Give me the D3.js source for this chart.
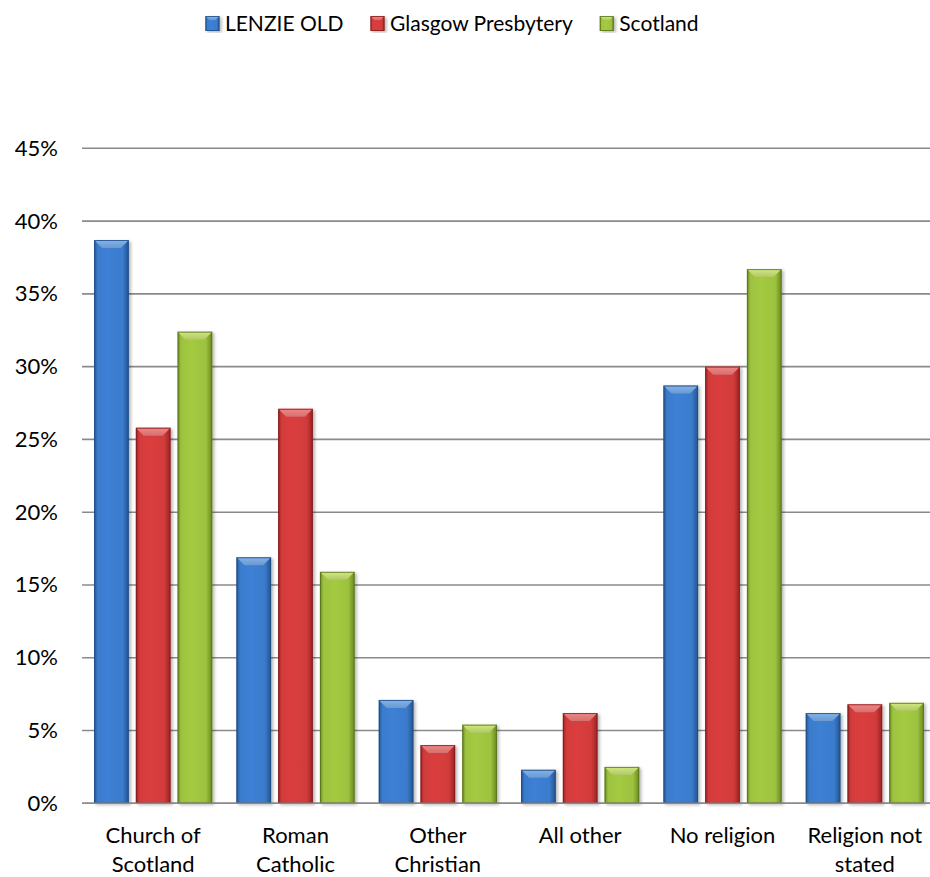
<!DOCTYPE html>
<html>
<head>
<meta charset="utf-8">
<script src="https://cdn.jsdelivr.net/npm/d3@7"></script>
<style>
  html, body { margin: 0; padding: 0; background: #fff; }
  svg { display: block; }
  text { font-family: Lato, "Open Sans", sans-serif; fill: #000; }
</style>
</head>
<body>
<svg id="chart" width="930" height="877"></svg>
<script>
// ---- data ----
const categories = [
  ["Church of", "Scotland"],
  ["Roman", "Catholic"],
  ["Other", "Christian"],
  ["All other"],
  ["No religion"],
  ["Religion not", "stated"]
];
const seriesNames = ["LENZIE OLD", "Glasgow Presbytery", "Scotland"];
const lenzieOld = [38.7, 16.9, 7.1, 2.3, 28.7, 6.2];
const glasgowPresbytery = [25.8, 27.1, 4.0, 6.2, 30.0, 6.8];
const scotland = [32.4, 15.9, 5.4, 2.5, 36.7, 6.9];
const yTicks = [0, 5, 10, 15, 20, 25, 30, 35, 40, 45];

(function () {
const seriesValues = [lenzieOld, glasgowPresbytery, scotland];
const palette = [
  { body: "#3a7bcc", edge: "#23548f", top: "#80b4f0", line: "#1e4a80" },
  { body: "#d23b3b", edge: "#9a2222", top: "#f58585", line: "#821b1b" },
  { body: "#9dc23f", edge: "#68881f", top: "#d0ea7c", line: "#56701a" }
];
const FS = 22;

const svg = d3.select("#chart");
const W = 930;
const pLeft = 82, pRight = 936, pTop = 148.3, pBottom = 803.3;

const catKeys = categories.map((c, i) => i);
const x0 = d3.scaleBand().domain(catKeys).range([pLeft, pRight])
  .paddingInner(0.17).paddingOuter(0.085);
const x1 = d3.scaleBand().domain(d3.range(seriesNames.length))
  .range([0, x0.bandwidth()]).paddingInner(0.17).paddingOuter(0);
const y = d3.scaleLinear().domain([0, 45]).range([pBottom, pTop]);

const defs = svg.append("defs");
palette.forEach((p, i) => {
  const g = defs.append("linearGradient").attr("id", "body" + i)
    .attr("x1", "0").attr("x2", "1").attr("y1", "0").attr("y2", "0");
  g.append("stop").attr("offset", "0").attr("stop-color", p.edge);
  g.append("stop").attr("offset", "0.1").attr("stop-color", p.body);
  g.append("stop").attr("offset", "0.4").attr("stop-color", d3.color(p.body).brighter(0.12));
  g.append("stop").attr("offset", "0.82").attr("stop-color", p.body);
  g.append("stop").attr("offset", "1").attr("stop-color", p.edge);
  const t = defs.append("linearGradient").attr("id", "top" + i)
    .attr("x1", "0").attr("x2", "0").attr("y1", "0").attr("y2", "1");
  t.append("stop").attr("offset", "0").attr("stop-color", p.top);
  t.append("stop").attr("offset", "1").attr("stop-color", d3.color(p.top).darker(0.45));
});
const f = defs.append("filter").attr("id", "shadow")
  .attr("x", "-20%").attr("y", "-5%").attr("width", "150%").attr("height", "115%");
f.append("feDropShadow").attr("dx", 2).attr("dy", 1.5).attr("stdDeviation", 1.6)
  .attr("flood-color", "#000").attr("flood-opacity", 0.28);

svg.append("g").selectAll("line").data(yTicks).join("line")
  .attr("x1", pLeft).attr("x2", W)
  .attr("y1", d => y(d)).attr("y2", d => y(d))
  .attr("stroke", "#8a8a8a").attr("stroke-width", 1.6);

svg.append("g").selectAll("text").data(yTicks).join("text")
  .attr("x", 58).attr("y", d => y(d) + 7.5)
  .attr("text-anchor", "end").attr("font-size", FS)
  .text(d => d + "%");

function drawBar(g, x, yTop, w, h, i, bev) {
  const p = palette[i];
  const b = Math.min(bev, h / 2, w / 2);
  const bg = g.append("g").attr("filter", "url(#shadow)");
  bg.append("rect").attr("x", x).attr("y", yTop).attr("width", w).attr("height", h)
    .attr("fill", `url(#body${i})`);
  bg.append("path")
    .attr("d", `M${x},${yTop}L${x + w},${yTop}L${x + w - b},${yTop + b}L${x + b},${yTop + b}Z`)
    .attr("fill", `url(#top${i})`);
  bg.append("rect").attr("x", x + 0.5).attr("y", yTop + 0.5)
    .attr("width", Math.max(0, w - 1)).attr("height", Math.max(0, h - 1))
    .attr("fill", "none").attr("stroke", p.line).attr("stroke-width", 1).attr("stroke-opacity", 0.8);
}

const barsG = svg.append("g");
catKeys.forEach(ci => {
  seriesValues.forEach((vals, si) => {
    const v = vals[ci];
    const bx = x0(ci) + x1(si);
    drawBar(barsG, bx, y(v), x1.bandwidth(), y(0) - y(v), si, 8);
  });
});

svg.append("line").attr("x1", pLeft).attr("x2", W)
  .attr("y1", y(0)).attr("y2", y(0))
  .attr("stroke", "#8a8a8a").attr("stroke-width", 1.6);

const catG = svg.append("g");
categories.forEach((lines, ci) => {
  const cx = x0(ci) + x0.bandwidth() / 2;
  const t = catG.append("text").attr("text-anchor", "middle").attr("font-size", FS);
  lines.forEach((ln, li) => {
    t.append("tspan").attr("x", cx).attr("y", 843 + li * 29).text(ln);
  });
});

const legG = svg.append("g");
const sq = 14, gapText = 5.5, gapItem = 27, legY = 31;
let cur = 0;
const items = [];
seriesNames.forEach((name, i) => {
  const it = legG.append("g");
  drawBar(it, 0, -sq - 1, sq, sq + 1, i, 4);
  const tx = it.append("text").attr("x", sq + gapText).attr("y", 0)
    .attr("font-size", 21).text(name);
  const tw = tx.node().getComputedTextLength();
  items.push({ g: it, x: cur });
  cur += sq + gapText + tw + gapItem;
});
const totalW = cur - gapItem;
const startX = 452 - totalW / 2;
items.forEach(it => it.g.attr("transform", `translate(${startX + it.x},${legY})`));
})();
</script>
</body>
</html>
